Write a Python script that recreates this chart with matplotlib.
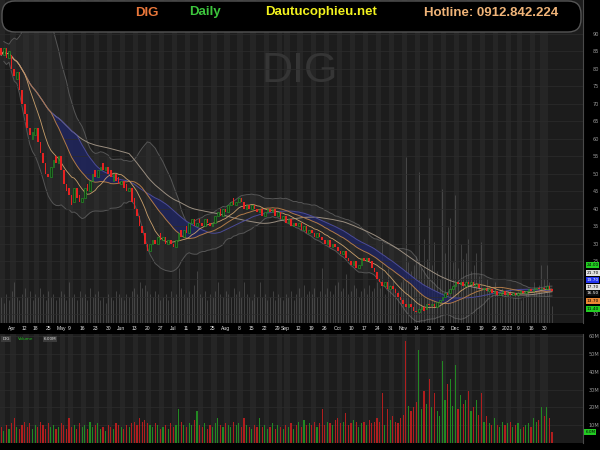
import matplotlib
matplotlib.use("Agg")  # Non-interactive backend
import matplotlib.pyplot as plt
from matplotlib.patches import FancyBboxPatch
from matplotlib.transforms import blended_transform_factory
import numpy as np
import pandas as pd

# === Data ===
TICKER = 'DIG'
START_DATE = '2022-03-29'
HOLIDAYS = ['2022-04-11', '2022-05-02', '2022-05-03', '2022-09-01', '2022-09-02',
            '2023-01-02', '2023-01-20', '2023-01-23', '2023-01-24', '2023-01-25', '2023-01-26']

closes = [84, 86, 83, 85, 80, 78, 79, 74, 70, 67,
          63, 61, 62, 63, 59, 56, 53, 50, 49, 52,
          54, 53, 55, 51, 47, 45, 44, 41, 46, 43,
          42, 43, 46, 45, 48, 50, 49, 51, 52, 51,
          52, 50, 49, 50, 48, 47, 48, 46, 45, 46,
          42, 40, 38, 35, 33, 30, 28, 30, 31, 30,
          32, 31, 32, 30, 31, 30, 29, 31, 33, 32,
          34, 33, 36, 37, 35, 36, 36, 35, 37, 36,
          35, 36, 38, 39, 38, 40, 39, 41, 42, 41,
          42, 43, 42, 40, 41, 40, 41, 40, 39, 40,
          38, 39, 40, 39, 40, 38, 39, 37, 38, 36,
          37, 35, 36, 35, 36, 34, 35, 33, 34, 33,
          32, 33, 32, 31, 30, 31, 29, 30, 29, 28,
          27, 28, 26, 25, 24, 25, 23, 24, 26, 25,
          26, 25, 23, 22, 20, 19, 18, 19, 17, 18,
          17, 16, 15, 14, 13, 12, 13, 12, 11, 10.5,
          11.5, 12, 11, 13, 12.5, 13, 12, 13.5, 14, 15,
          16, 15.5, 17, 18, 19, 18.5, 19, 18, 19, 18.5,
          19, 18, 18.5, 17.5, 17, 17.5, 16.5, 17, 16, 16.5,
          15.5, 16, 16.5, 15.5, 16, 15.5, 16, 15.5, 16, 16.5,
          16, 16.5, 17, 16.5, 17, 17.5, 17, 17.5, 17, 18,
          17, 16.5]

opens = [86, 84, 86, 83, 84, 80, 77, 79, 74, 70,
         67, 63, 60, 61, 63, 59, 56, 53, 50, 49,
         52, 55, 53, 55, 51, 47, 46, 44, 42, 46,
         44, 42, 43, 47, 45, 48, 51, 49, 51, 53,
         51, 52, 51, 48, 50, 49, 47, 48, 47, 45,
         46, 43, 40, 38, 35, 33, 30, 28, 30, 31,
         30, 33, 31, 32, 30, 31, 30, 29, 31, 34,
         32, 35, 33, 36, 37, 35, 37, 36, 35, 37,
         36, 35, 36, 38, 40, 38, 40, 39, 41, 43,
         41, 42, 43, 42, 40, 41, 40, 41, 40, 39,
         40, 38, 39, 40, 39, 40, 38, 39, 37, 38,
         36, 37, 35, 36, 35, 36, 34, 35, 33, 34,
         33, 32, 33, 32, 31, 30, 31, 29, 30, 29,
         28, 27, 28, 26, 25, 24, 25, 23, 24, 26,
         25, 26, 25, 23, 22, 20, 19, 18, 19, 17,
         18, 17, 16, 15, 14, 13, 12, 13, 12, 11,
         10.5, 11.5, 12, 11.5, 13, 12.5, 13, 12, 13.5, 14,
         15, 16, 16, 17, 18, 19, 18.5, 19, 18, 19,
         18.5, 19, 18, 18.5, 17.5, 17, 17.5, 16.5, 17, 16,
         16.5, 15.5, 16, 16.5, 15.5, 16, 15.5, 16, 15.5, 16,
         16.5, 16, 16.5, 17, 16.5, 17, 17.5, 17, 17.5, 17,
         18, 17]

# volume in millions of shares
volumes = [9, 7, 10, 8, 11, 14, 9, 8, 10, 12,
           9, 11, 8, 10, 9, 12, 10, 8, 11, 9,
           10, 8, 9, 11, 10, 8, 14, 9, 10, 8,
           11, 9, 10, 8, 12, 9, 10, 11, 8, 9,
           7, 10, 9, 8, 11, 10, 9, 8, 10, 9,
           11, 12, 10, 14, 12, 13, 11, 10, 9, 11,
           10, 8, 9, 10, 8, 11, 9, 10, 19, 12,
           10, 9, 11, 10, 13, 18, 10, 9, 11, 8,
           10, 9, 11, 14, 10, 9, 11, 10, 9, 12,
           10, 11, 9, 14, 10, 9, 8, 10, 9, 14,
           9, 10, 8, 9, 11, 8, 10, 9, 8, 10,
           9, 11, 8, 10, 12, 9, 13, 10, 11, 10,
           12, 9, 11, 19, 10, 12, 11, 10, 13, 14,
           11, 12, 17, 10, 11, 13, 12, 9, 11, 12,
           10, 13, 11, 12, 14, 12, 28, 10, 19, 13,
           15, 12, 11, 14, 16, 57, 21, 18, 20, 23,
           52, 19, 29, 22, 36, 20, 28, 18, 15, 46,
           24, 33, 36, 21, 44, 19, 27, 22, 24, 29,
           18, 20, 24, 16, 28, 12, 15, 11, 10, 14,
           10, 9, 12, 10, 11, 12, 9, 10, 11, 8,
           9, 10, 11, 9, 14, 12, 13, 20, 15, 20,
           14, 6]

price_ticks = list(range(10, 95, 5))
hidden_price_labels = [15, 20]          # covered by the value tags in the reference
vol_ticks = [10, 20, 30, 40, 50, 60]
vol_tick_labels = ['10M', '20M', '30M', '40M', '50M', '60M']

# last-value tags on the right price scale
tag_values = [24.0, 21.7, 19.7, 17.7, 16.0, 13.7, 11.4]
tag_labels = ['24.00', '21.70', '19.70', '17.70', '16.50', '13.70', '11.40']
tag_faces = ['#22cc22', '#e0e0e0', '#2233ee', '#e0e0e0', '#111111', '#ee8833', '#22cc22']
tag_texts = ['black', 'black', 'white', 'black', 'white', 'black', 'black']

header_items = [('DIG', '#e8763a', 147), ('Daily', '#3cc43c', 205),
                ('Dautucophieu.net', '#f2f21e', 321), ('Hotline: 0912.842.224', '#f0b478', 491)]

# === Layout (pixels of a 600x450 canvas) ===
W, H = 600, 450
PANE_R = 583
BG = '#1c1c1c'
STRIPE = '#252525'
FONT = 'Liberation Sans'


def fig_rect(x0, y0, x1, y1):
    return [x0 / W, 1 - y1 / H, (x1 - x0) / W, (y1 - y0) / H]


dates = pd.date_range(START_DATE, periods=len(closes),
                      freq=pd.offsets.CustomBusinessDay(holidays=HOLIDAYS))
idx = np.arange(len(closes))
c = np.array(closes, dtype=float)
o = np.array(opens, dtype=float)
v = np.array(volumes, dtype=float)
up = c >= o

s = pd.Series(c)
ma10 = s.rolling(10, min_periods=1).mean()
ma20 = s.rolling(20, min_periods=1).mean()
ma30 = s.rolling(30, min_periods=1).mean()
ma50 = s.rolling(50, min_periods=1).mean()
std20 = s.rolling(20, min_periods=2).std()
bb_up = ma20 + 2 * std20
bb_dn = ma20 - 2 * std20

# week starts for stripes / date labels
week = dates.isocalendar().week.values
week_starts = [0] + [i for i in range(1, len(dates)) if week[i] != week[i - 1]]

XLIM = (-0.46, 222.9)

fig = plt.figure(figsize=(6, 4.5), dpi=100, facecolor='black')


def style_pane(a, pad):
    a.set_facecolor(BG)
    a.set_xlim(*XLIM)
    for ws in week_starts:
        a.axvspan(ws - 0.5, ws + 1.5, color=STRIPE, lw=0, zorder=0)
    a.yaxis.tick_right()
    a.tick_params(axis='y', length=0, pad=pad, labelsize=3.6, labelcolor='#9a9a9a')
    a.set_xticks([])
    a.grid(axis='y', color='#2c2c2c', lw=0.5, zorder=0.2)
    for sp in a.spines.values():
        sp.set_visible(False)
    a.spines['right'].set_visible(True)
    a.spines['right'].set_color('#4a4a4a')
    a.spines['right'].set_linewidth(0.8)


# %% === Price pane ===
ax = fig.add_axes(fig_rect(0, 0, PANE_R, 323))
style_pane(ax, 7)
ax.set_ylim(7.43, 99.7)
ax.set_yticks(price_ticks)
ax.set_yticklabels(['' if t in hidden_price_labels else str(t) for t in price_ticks])

# watermark
ax.text(300 / W, 1 - 71 / H, TICKER, transform=fig.transFigure, ha='center', va='center',
        fontsize=31, color='#353535', family=FONT, zorder=0.3)

# volume overlay at the bottom of the price pane
ax.vlines(idx, 0, v / 111.0, transform=ax.get_xaxis_transform(), colors='#727272',
          lw=0.6, alpha=0.5, zorder=1.2)

# bollinger band
ax.fill_between(idx, bb_dn, bb_up, color='#3a3a3a', alpha=0.3, lw=0, zorder=1)
ax.plot(idx, bb_up, color='#555555', lw=0.7, zorder=1.1)
ax.plot(idx, bb_dn, color='#555555', lw=0.7, zorder=1.1)

# moving averages and cloud
ax.fill_between(idx, ma20, ma30, where=(ma20 < ma30), color='#1e2460', alpha=0.8,
                lw=0, zorder=1.3, interpolate=True)
ax.plot(idx, ma50, color='#9a8e80', lw=0.7, zorder=2)
ax.plot(idx, ma30, color='#4b4b98', lw=0.7, zorder=2)
ax.plot(idx, ma20, color='#b07a48', lw=0.7, zorder=2)
ax.plot(idx, ma10, color='#c9a06c', lw=0.6, zorder=2)

# candles
body = np.where(np.abs(c - o) < 0.2, 0.2, c - o)
ax.bar(idx[~up], body[~up], bottom=o[~up], width=0.62, color='#e62222', lw=0, zorder=3)
ax.bar(idx[up], body[up], bottom=o[up], width=0.62, color='#0f3a12',
       edgecolor='#2aa02a', lw=0.4, zorder=3)

# price tags
tag_tr = blended_transform_factory(ax.transAxes, ax.transData)
for val, lab, fc, tc in zip(tag_values, tag_labels, tag_faces, tag_texts):
    ax.text(1.006, val, lab, transform=tag_tr, ha='left', va='center', fontsize=3.1,
            color=tc, bbox=dict(facecolor=fc, edgecolor='none', pad=0.6), zorder=5, clip_on=False)

# %% === Date strip ===
axd = fig.add_axes(fig_rect(0, 323, PANE_R, 334))
axd.set_xlim(*XLIM)
axd.set_ylim(0, 1)
axd.axis('off')
axd.add_patch(plt.Rectangle((XLIM[0], 0), XLIM[1] - XLIM[0], 1, color='black', zorder=0))
prev_month = dates[0].month
for k, ws in enumerate(week_starts[1:], start=1):
    d = dates[ws]
    if d.month != prev_month:
        lab = str(d.year) if d.month == 1 else d.strftime('%b')
    else:
        lab = str(d.day)
    prev_month = d.month
    nxt = week_starts[k + 1] if k + 1 < len(week_starts) else None
    if nxt is not None and nxt - ws < 3:
        continue
    axd.text(ws, 0.5, lab, ha='center', va='center', fontsize=3.6, color='#e6e6e6', family=FONT)

# %% === Volume pane ===
axv = fig.add_axes(fig_rect(0, 334, PANE_R, 443))
style_pane(axv, 4)
axv.set_ylim(0, 61.2)
axv.bar(idx[~up], v[~up], width=0.45, color='#b01e1e', lw=0, zorder=2)
axv.bar(idx[up], v[up], width=0.45, color='#228822', lw=0, zorder=2)
axv.set_yticks(vol_ticks)
axv.set_yticklabels(vol_tick_labels)
axv.text(1.004, v[-1], f'{v[-1]:.1f}M', transform=blended_transform_factory(axv.transAxes, axv.transData),
         ha='left', va='center', fontsize=3.0, color='black',
         bbox=dict(facecolor='#22cc22', edgecolor='none', pad=0.6), zorder=5, clip_on=False)

# volume legend
axv.text(0.004, 0.955, TICKER, transform=axv.transAxes, fontsize=3, color='#dddddd', va='center',
         bbox=dict(facecolor='#3a3a3a', edgecolor='none', pad=0.6))
axv.text(0.03, 0.955, 'Volume', transform=axv.transAxes, fontsize=3, color='#22bb22', va='center')
axv.text(0.075, 0.955, f'{v[-1]:.2f}M', transform=axv.transAxes, fontsize=3, color='#dddddd',
         va='center', bbox=dict(facecolor='#3a3a3a', edgecolor='none', pad=0.6))

# %% === Header ===
axh = fig.add_axes(fig_rect(0, 0, W, 34))
axh.set_xlim(0, W)
axh.set_ylim(34, 0)
axh.axis('off')
axh.patch.set_alpha(0)
axh.add_patch(FancyBboxPatch((2, 1), PANE_R - 4, 31, boxstyle='round,pad=0,rounding_size=13',
                             facecolor='black', edgecolor='#555555', lw=1.0))
for txt, col, xc in header_items:
    axh.text(xc, 12.5, txt, ha='center', va='center', color=col, fontsize=9.5,
             fontweight='bold', family=FONT)

fig.savefig('out.png', dpi=100, facecolor='black')
